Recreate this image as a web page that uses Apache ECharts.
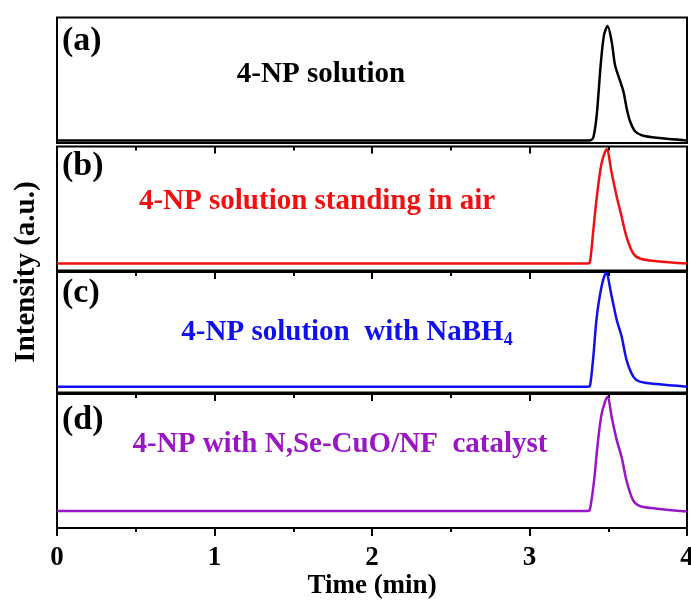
<!DOCTYPE html>
<html>
<head>
<meta charset="utf-8">
<script src="https://cdn.jsdelivr.net/npm/echarts@6/dist/echarts.min.js"></script>
<style>
    html, body {margin: 0; padding: 0; background: #fff;}
    #main {width: 691px; height: 601px;}
</style>
</head>
<body>
<div id="main"></div>
<script>
// 数据 (时间 min, 归一化强度)
var timeA = [0, 3.38, 3.405, 3.427, 3.452, 3.473, 3.496, 3.522, 3.543, 3.575, 3.596, 3.617, 3.638, 3.67, 3.712, 3.808, 4.0];
var intensityA = [0, 0, 0.026, 0.226, 0.66, 0.92, 1.0, 0.86, 0.66, 0.52, 0.43, 0.28, 0.17, 0.08, 0.046, 0.023, 0];

var timeB = [0, 3.37, 3.384, 3.405, 3.427, 3.458, 3.49, 3.522, 3.554, 3.585, 3.617, 3.659, 3.70, 3.808, 4.0];
var intensityB = [0, 0, 0.015, 0.29, 0.58, 0.88, 1.0, 0.79, 0.585, 0.41, 0.23, 0.088, 0.044, 0.02, 0];

var timeC = [0, 3.37, 3.384, 3.405, 3.427, 3.458, 3.486, 3.522, 3.554, 3.585, 3.617, 3.659, 3.70, 3.808, 4.0];
var intensityC = [0, 0, 0.006, 0.26, 0.61, 0.88, 1.0, 0.79, 0.585, 0.44, 0.23, 0.088, 0.044, 0.023, 0];

var timeD = [0, 3.37, 3.384, 3.41, 3.431, 3.458, 3.496, 3.522, 3.554, 3.585, 3.617, 3.659, 3.70, 3.808, 4.0];
var intensityD = [0, 0, 0.015, 0.265, 0.56, 0.85, 1.0, 0.82, 0.62, 0.47, 0.26, 0.09, 0.044, 0.02, -0.005];

var xTicks = [0, 1, 2, 3, 4];
var panelLabels = ['(a)', '(b)', '(c)', '(d)'];
var sampleNames = ['4-NP solution', '4-NP solution standing in air', '4-NP solution  with NaBH', '4-NP with N,Se-CuO/NF  catalyst'];

var serif = "'Liberation Serif', 'Times New Roman', serif";

function pairs(t, v) {
    let out = [];
    for (let i = 0; i < t.length; i++) {
        out.push([t[i], v[i]]);
    }
    return out;
}

function topAxis(idx) {
    return {
        type: 'value', gridIndex: idx, position: 'top', min: 0, max: 4, interval: 1,
        axisLine: {show: false, onZero: false},
        axisTick: {show: true, inside: true, length: 7, lineStyle: {color: '#000', width: 2}},
        minorTick: {show: true, splitNumber: 2, length: 4, lineStyle: {color: '#000', width: 2}},
        axisLabel: {show: false},
        splitLine: {show: false}
    };
}

function hiddenY(idx, min, max) {
    return {
        type: 'value', gridIndex: idx, min: min, max: max,
        axisLine: {show: false, onZero: false}, axisTick: {show: false},
        axisLabel: {show: false}, splitLine: {show: false}
    };
}

var gridBase = {
    left: 57, right: 4, show: true, borderColor: '#000', borderWidth: 2,
    backgroundColor: 'transparent', containLabel: false, outerBoundsMode: 'none'
};

var chart = document.getElementById('main');
var echart = echarts.init(chart);

var option = {
    animation: false,
    grid: [
        Object.assign({}, gridBase, {top: 17.5, height: 125.5}),
        Object.assign({}, gridBase, {top: 146.5, height: 124}),
        Object.assign({}, gridBase, {top: 272, height: 120.5}),
        Object.assign({}, gridBase, {top: 394, height: 134})
    ],
    xAxis: [
        {
            type: 'value', gridIndex: 0, min: 0, max: 4, interval: 1,
            axisLine: {show: false, onZero: false}, axisTick: {show: false},
            axisLabel: {show: false}, splitLine: {show: false}
        },
        topAxis(1),
        topAxis(2),
        topAxis(3),
        {
            type: 'value', gridIndex: 3, position: 'bottom', min: 0, max: 4, interval: 1,
            axisLine: {show: true, onZero: false, lineStyle: {color: '#000', width: 2}},
            axisTick: {show: true, length: 8, lineStyle: {color: '#000', width: 2}},
            minorTick: {show: true, splitNumber: 2, length: 4, lineStyle: {color: '#000', width: 2}},
            axisLabel: {
                show: true, margin: 17, color: '#000', fontSize: 27, fontWeight: 'bold', fontFamily: serif,
                formatter: function (v) { return xTicks.indexOf(v) >= 0 ? String(v) : ''; }
            },
            splitLine: {show: false},
            name: 'Time (min)', nameLocation: 'middle', nameGap: 42,
            nameTextStyle: {color: '#000', fontSize: 27, fontWeight: 'bold', fontFamily: serif}
        }
    ],
    yAxis: [
        hiddenY(0, -0.022, 1.074),
        hiddenY(1, -0.061, 1.025),
        hiddenY(2, -0.051, 1.006),
        hiddenY(3, -0.149, 1.024)
    ],
    series: [
        {
            name: sampleNames[0], type: 'line', xAxisIndex: 0, yAxisIndex: 0, smooth: 0.3, showSymbol: false,
            lineStyle: {color: '#000000', width: 2.5}, data: pairs(timeA, intensityA)
        },
        {
            name: sampleNames[1], type: 'line', xAxisIndex: 1, yAxisIndex: 1, smooth: 0.3, showSymbol: false,
            lineStyle: {color: '#f01010', width: 2.5}, data: pairs(timeB, intensityB)
        },
        {
            name: sampleNames[2], type: 'line', xAxisIndex: 2, yAxisIndex: 2, smooth: 0.3, showSymbol: false,
            lineStyle: {color: '#1010ee', width: 2.5}, data: pairs(timeC, intensityC)
        },
        {
            name: sampleNames[3], type: 'line', xAxisIndex: 3, yAxisIndex: 3, smooth: 0.3, showSymbol: false,
            lineStyle: {color: '#9a16c4', width: 2.5}, data: pairs(timeD, intensityD)
        }
    ],
    graphic: [
        {type: 'text', left: 62, top: 24, style: {text: panelLabels[0], fill: '#000', fontSize: 34, fontWeight: 'bold', fontFamily: serif}},
        {type: 'text', left: 62, top: 149, style: {text: panelLabels[1], fill: '#000', fontSize: 34, fontWeight: 'bold', fontFamily: serif}},
        {type: 'text', left: 62, top: 276, style: {text: panelLabels[2], fill: '#000', fontSize: 34, fontWeight: 'bold', fontFamily: serif}},
        {type: 'text', left: 62, top: 403, style: {text: panelLabels[3], fill: '#000', fontSize: 34, fontWeight: 'bold', fontFamily: serif}},
        {type: 'text', x: 321, y: 75, style: {text: sampleNames[0], fill: '#000', fontSize: 29, fontWeight: 'bold', fontFamily: serif, align: 'center', verticalAlign: 'middle'}},
        {type: 'text', x: 317, y: 202, style: {text: sampleNames[1], fill: '#f01010', fontSize: 29, fontWeight: 'bold', fontFamily: serif, align: 'center', verticalAlign: 'middle'}},
        {
            type: 'text', x: 347, y: 333,
            style: {
                text: '{n|' + sampleNames[2] + '}{s|4}', align: 'center', verticalAlign: 'middle',
                rich: {
                    n: {fill: '#1010ee', fontSize: 29, fontWeight: 'bold', fontFamily: serif},
                    s: {fill: '#1010ee', fontSize: 18, fontWeight: 'bold', fontFamily: serif, padding: [15, 0, 0, 0]}
                }
            }
        },
        {type: 'text', x: 340, y: 445, style: {text: sampleNames[3], fill: '#9a16c4', fontSize: 29, fontWeight: 'bold', fontFamily: serif, align: 'center', verticalAlign: 'middle'}},
        {type: 'text', x: 27, y: 272, rotation: Math.PI / 2, style: {text: 'Intensity (a.u.)', fill: '#000', fontSize: 29, fontWeight: 'bold', fontFamily: serif, align: 'center', verticalAlign: 'middle'}}
    ]
};
echart.setOption(option);
</script>
</body>
</html>
